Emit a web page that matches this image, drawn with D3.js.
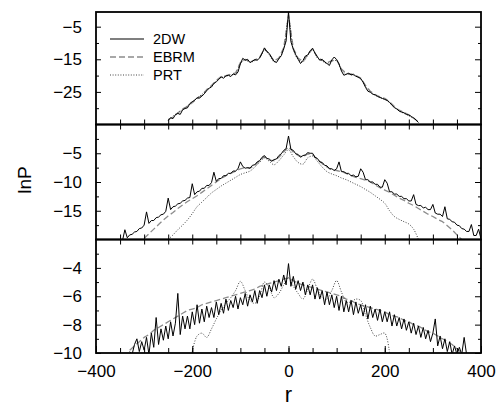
<!DOCTYPE html>
<html>
<head>
<meta charset="utf-8">
<script src="https://cdn.jsdelivr.net/npm/d3@7"></script>
<style>
  body { margin: 0; background: #fff; }
  svg { display: block; font-family: "Liberation Sans", Arial, Helvetica, sans-serif; }
</style>
</head>
<body>
<svg id="chart" width="501" height="407"></svg>
<script>
// ---- data (r grid: start + i * step) ----

// top panel
const top2dwStart = -250, top2dwStep = 5;
const top2dw = [
  -33.8, -32.9, -33.2, -32.0, -31.6, -31.9, -30.5, -30.1, -29.9, -28.6,
  -28.0, -27.6, -26.8, -26.9, -26.3, -25.6, -24.6, -23.9, -23.5, -22.4,
  -21.9, -21.2, -20.4, -20.8, -20.1, -19.9, -20.3, -19.5, -19.8, -18.9,
  -16.4, -14.7, -15.3, -15.0, -16.0, -15.6, -15.1, -15.3, -14.6, -13.2,
  -11.5, -12.6, -13.2, -14.5, -15.6, -16.0, -14.8, -13.9, -11.8, -9.4,
  -0.4, -9.6, -11.9, -13.6, -15.0, -16.3, -15.4, -14.0, -13.7, -12.4,
  -11.6, -13.1, -14.2, -15.3, -15.0, -15.8, -16.3, -16.9, -15.2, -14.3,
  -15.1, -16.4, -18.6, -19.9, -19.6, -19.3, -19.8, -19.6, -20.2, -20.5,
  -20.9, -22.0, -23.6, -24.8, -25.1, -25.7, -25.9, -26.4, -26.7, -27.0,
  -27.3, -27.6, -28.2, -29.1, -29.8, -30.2, -30.9, -31.2, -31.4, -31.9,
  -32.1, -32.5, -33.0, -33.6, -34.4
];
const topEbrmStart = -250, topEbrmStep = 10;
const topEbrm = [
  -33.5, -32.7, -31.5, -30.2, -29.5, -28.3, -27.1, -26.0, -24.3, -23.0,
  -21.5, -20.3, -20.0, -19.6, -19.2, -16.0, -15.0, -15.8, -15.2, -14.4,
  -11.8, -13.4, -15.5, -14.6, -11.5, -1.5, -11.6, -14.7, -15.6, -13.5,
  -11.9, -14.3, -15.3, -16.1, -15.4, -15.2, -18.0, -19.3, -19.5, -20.0,
  -20.8, -23.0, -24.8, -25.8, -26.5, -27.0, -28.0, -29.5, -30.6, -31.3,
  -32.0, -33.0, -34.2
];
const topPrtStart = -240, topPrtStep = 10;
const topPrt = [
  -32.4, -31.4, -30.4, -29.2, -28.0, -26.8, -25.8, -24.5, -23.2, -21.7,
  -20.6, -20.2, -19.8, -19.4, -16.4, -15.2, -15.9, -15.4, -14.6, -12.2,
  -13.6, -15.8, -14.9, -11.9, -2.5, -12.0, -15.0, -15.8, -13.8, -12.1,
  -14.6, -15.5, -16.3, -15.6, -15.4, -18.3, -19.5, -19.7, -20.2, -21.1,
  -23.3, -25.0, -26.0, -26.7, -27.3, -28.3, -29.8, -30.8, -31.6, -32.3,
  -33.3
];

// middle panel
const mid2dwStart = -345, mid2dwStep = 5;
const mid2dw = [
  -20.2, -18.3, -19.7, -19.2, -19.1, -18.7, -18.6, -18.1, -18.0, -17.5,
  -15.2, -17.2, -16.7, -16.7, -16.2, -16.1, -15.7, -15.6, -15.1, -12.8,
  -14.8, -14.3, -14.2, -13.8, -13.7, -13.3, -13.2, -12.8, -12.7, -10.3,
  -12.2, -11.7, -11.6, -11.1, -11.1, -10.6, -10.6, -10.1, -8.3, -9.9,
  -9.4, -9.4, -8.9, -8.9, -8.5, -8.5, -8.1, -8.1, -7.7, -6.5,
  -7.3, -7.6, -7.5, -7.6, -7.1, -7.0, -6.5, -6.3, -5.7, -5.4,
  -5.9, -6.0, -6.4, -6.1, -6.0, -5.4, -5.1, -4.5, -4.2, -2.0,
  -4.3, -4.5, -5.1, -5.2, -5.7, -5.4, -5.3, -4.9, -5.0, -5.0,
  -5.7, -5.9, -6.5, -6.6, -7.1, -7.2, -7.7, -7.7, -8.0, -7.7,
  -6.5, -8.2, -8.2, -8.5, -8.5, -8.9, -8.8, -9.1, -9.0, -7.7,
  -8.3, -9.6, -9.6, -10.0, -10.0, -10.4, -10.4, -10.9, -10.9, -9.6,
  -10.2, -11.7, -11.7, -12.1, -12.1, -12.5, -12.5, -12.9, -12.9, -13.3,
  -13.3, -12.2, -13.9, -14.1, -14.1, -14.5, -14.4, -14.8, -14.8, -13.9,
  -15.4, -15.6, -15.6, -16.0, -14.3, -16.4, -16.5, -16.9, -17.0, -17.5,
  -17.6, -18.1, -18.2, -18.6, -18.6, -17.4, -19.3, -19.3, -18.2, -19.9
];
const midEbrmStart = -300, midEbrmStep = 10;
const midEbrm = [
  -19.8, -19.0, -18.2, -17.4, -16.6, -15.9, -15.3, -14.6, -14.0, -13.4,
  -12.9, -12.4, -11.8, -11.2, -10.6, -10.0, -9.4, -8.9, -8.5, -8.1,
  -7.7, -7.5, -7.6, -7.1, -6.3, -5.6, -6.2, -6.3, -5.7, -4.8,
  -3.9, -4.8, -5.4, -5.6, -5.1, -5.2, -6.1, -6.8, -7.4, -7.9,
  -8.0, -8.2, -8.5, -8.9, -9.2, -9.4, -9.7, -10.0, -10.5, -11.0,
  -11.4, -11.8, -12.3, -12.8, -13.2, -13.7, -14.1, -14.6, -15.1, -15.6,
  -16.0, -16.5, -16.9, -17.6, -18.3, -19.2, -20.0
];
const midPrtStart = -250, midPrtStep = 10;
const midPrt = [
  -20.0, -19.2, -18.3, -17.5, -16.6, -15.5, -14.3, -13.5, -12.7, -11.9,
  -11.3, -10.7, -10.2, -9.7, -9.2, -8.7, -8.4, -8.1, -7.4, -6.6,
  -5.8, -6.4, -7.0, -6.3, -5.3, -4.4, -5.6, -6.6, -6.9, -5.8,
  -5.5, -6.4, -7.4, -8.2, -8.6, -8.9, -9.3, -9.6, -10.0, -10.4,
  -10.8, -11.3, -11.8, -12.4, -13.0, -13.7, -15.0, -16.0, -16.5, -16.9,
  -17.3, -18.2, -20.0
];

// bottom panel
const bot2dwStart = -330, bot2dwStep = 5;
const bot2dw = [
  -9.9, -10.1, -9.4, -9.0, -9.9, -9.2, -9.8, -8.9, -10.1, -8.6,
  -9.6, -7.5, -9.4, -8.3, -9.1, -8.1, -9.0, -7.8, -8.8, -7.9,
  -5.8, -8.7, -7.4, -8.3, -7.4, -8.3, -7.1, -8.0, -6.6, -7.9,
  -6.9, -7.8, -6.7, -7.5, -6.8, -7.5, -6.4, -7.3, -6.5, -7.2,
  -6.2, -7.0, -6.3, -6.8, -6.0, -6.9, -6.1, -6.6, -5.8, -6.7,
  -5.9, -6.4, -5.6, -6.5, -5.6, -6.1, -5.2, -6.0, -5.2, -5.7,
  -4.9, -5.6, -4.8, -5.3, -4.5, -5.2, -3.7, -5.3, -4.6, -5.5,
  -4.9, -5.6, -5.0, -5.9, -5.2, -5.9, -5.2, -6.2, -5.4, -6.2,
  -5.6, -6.6, -5.7, -6.6, -5.9, -6.8, -6.0, -7.0, -6.0, -7.1,
  -6.3, -7.1, -6.3, -7.3, -6.4, -7.2, -6.6, -7.4, -6.6, -7.6,
  -6.7, -7.5, -6.9, -7.7, -6.9, -7.8, -7.1, -7.8, -7.1, -8.1,
  -7.3, -8.1, -7.5, -8.3, -7.6, -8.4, -7.8, -8.6, -7.9, -8.7,
  -8.1, -8.9, -8.2, -9.0, -8.4, -9.2, -8.6, -7.6, -9.5, -8.8,
  -9.7, -9.0, -9.9, -9.2, -10.1, -9.5, -10.1, -9.6, -10.1, -8.9,
  -10.1
];
const botEbrmStart = -330, botEbrmStep = 10;
const botEbrm = [
  -9.8, -9.5, -9.2, -8.9, -8.7, -8.4, -8.2, -8.0, -7.8, -7.6,
  -7.4, -7.2, -7.0, -6.9, -6.8, -6.6, -6.5, -6.4, -6.3, -6.2,
  -6.1, -6.0, -5.9, -5.8, -5.7, -5.6, -5.5, -5.3, -5.2, -5.1,
  -5.0, -4.9, -4.8, -4.7, -4.9, -5.1, -5.2, -5.3, -5.4, -5.5,
  -5.6, -5.7, -5.8, -5.9, -6.0, -6.2, -6.3, -6.5, -6.6, -6.7,
  -6.8, -6.9, -7.0, -7.1, -7.3, -7.4, -7.5, -7.7, -7.8, -8.0,
  -8.1, -8.3, -8.5, -8.6, -8.8, -9.0, -9.2, -9.4, -9.7, -10.0
];
const botPrtStart = -200, botPrtStep = 10;
const botPrt = [
  -9.9, -8.8, -8.6, -8.9, -8.3, -7.6, -7.0, -6.5, -6.1, -5.6,
  -4.95, -5.6, -6.3, -6.5, -6.0, -5.0, -5.4, -6.1, -5.8, -5.2,
  -4.7, -5.3, -5.8, -6.2, -5.5, -4.8, -5.5, -6.1, -6.2, -5.6,
  -4.9, -5.7, -6.4, -6.4, -6.2, -6.3, -7.3, -8.2, -8.8, -8.7,
  -8.6, -10.0
];

// axes
const xDomain = [-400, 400];
const xLabelTicks = [-400, -200, 0, 200, 400];
const xMinorTicks = [-350, -300, -250, -200, -150, -100, -50, 0, 50, 100, 150, 200, 250, 300, 350];

const panelDomains = [[-35, -0.5], [-20, 0], [-10, -2]];
const panelMajor = [[-5, -15, -25], [-5, -10, -15], [-4, -6, -8, -10]];
const panelMinor = [[-10, -20, -30], [-2.5, -7.5, -12.5, -17.5], [-3, -5, -7, -9]];

const seriesNames = ["2DW", "EBRM", "PRT"];

// ---- drawing ----
const svg = d3.select("#chart");
const left = 96, right = 481;
const panelRanges = [[124.5, 12], [239.5, 124.5], [353, 239.5]];

const x = d3.scaleLinear().domain(xDomain).range([left, right]);

const styles = {
  "2DW": { stroke: "#000", width: 1, dash: null },
  "EBRM": { stroke: "#8c8c8c", width: 1.3, dash: "6,3" },
  "PRT": { stroke: "#444", width: 1, dash: "1,1.6" }
};

function toPoints(start, step, vals) {
  return vals.map((v, i) => [start + i * step, v]);
}

const panelData = [
  {
    "2DW": toPoints(top2dwStart, top2dwStep, top2dw),
    "EBRM": toPoints(topEbrmStart, topEbrmStep, topEbrm),
    "PRT": toPoints(topPrtStart, topPrtStep, topPrt)
  },
  {
    "2DW": toPoints(mid2dwStart, mid2dwStep, mid2dw),
    "EBRM": toPoints(midEbrmStart, midEbrmStep, midEbrm),
    "PRT": toPoints(midPrtStart, midPrtStep, midPrt)
  },
  {
    "2DW": toPoints(bot2dwStart, bot2dwStep, bot2dw),
    "EBRM": toPoints(botEbrmStart, botEbrmStep, botEbrm),
    "PRT": toPoints(botPrtStart, botPrtStep, botPrt)
  }
];

const fmt = (d) => (d < 0 ? "\u2212" + Math.abs(d) : String(d));

panelData.forEach((series, i) => {
  const y = d3.scaleLinear().domain(panelDomains[i]).range(panelRanges[i]);
  const g = svg.append("g");

  // clip to the panel
  const clipId = "clip" + i;
  svg.append("clipPath").attr("id", clipId)
    .append("rect")
    .attr("x", left).attr("y", panelRanges[i][1])
    .attr("width", right - left).attr("height", panelRanges[i][0] - panelRanges[i][1]);

  const lines = g.append("g").attr("clip-path", `url(#${clipId})`);
  ["EBRM", "PRT", "2DW"].forEach((name) => {
    const st = styles[name];
    const line = d3.line()
      .curve(name === "PRT" ? d3.curveCatmullRom : d3.curveLinear)
      .x((d) => x(d[0]))
      .y((d) => y(d[1]));
    lines.append("path")
      .datum(series[name])
      .attr("fill", "none")
      .attr("stroke", st.stroke)
      .attr("stroke-width", st.width)
      .attr("stroke-dasharray", st.dash)
      .attr("stroke-linejoin", "round")
      .attr("d", line);
  });

  // y axes, ticks inward on both sides
  const yLeft = g.append("g").attr("transform", `translate(${left},0)`)
    .call(d3.axisLeft(y).tickValues(panelMajor[i]).tickFormat(fmt)
      .tickSizeInner(-5).tickSizeOuter(0).tickPadding(14));
  g.append("g").attr("transform", `translate(${left},0)`)
    .call(d3.axisLeft(y).tickValues(panelMinor[i]).tickFormat("")
      .tickSizeInner(-3).tickSizeOuter(0));
  g.append("g").attr("transform", `translate(${right},0)`)
    .call(d3.axisRight(y).tickValues(panelMajor[i]).tickFormat("")
      .tickSizeInner(-6).tickSizeOuter(0));
  g.append("g").attr("transform", `translate(${right},0)`)
    .call(d3.axisRight(y).tickValues(panelMinor[i]).tickFormat("")
      .tickSizeInner(-3).tickSizeOuter(0));

  // x ticks along the bottom (pointing up), and the top for lower panels
  g.append("g").attr("transform", `translate(0,${panelRanges[i][0]})`)
    .call(d3.axisBottom(x).tickValues(xMinorTicks).tickFormat("")
      .tickSizeInner(-5).tickSizeOuter(0));
  if (i > 0) {
    g.append("g").attr("transform", `translate(0,${panelRanges[i][1]})`)
      .call(d3.axisTop(x).tickValues(xMinorTicks).tickFormat("")
        .tickSizeInner(-5).tickSizeOuter(0));
  }

  yLeft.selectAll("text").attr("font-size", 17).attr("font-family", null).attr("fill", "#000");
  g.selectAll(".domain").remove();
  g.selectAll(".tick line").attr("stroke", "#000");

  // frame
  g.append("rect")
    .attr("x", left).attr("y", panelRanges[i][1])
    .attr("width", right - left).attr("height", panelRanges[i][0] - panelRanges[i][1])
    .attr("fill", "none").attr("stroke", "#000").attr("stroke-width", 1.8);

  // x labels only on the bottom panel
  if (i === 2) {
    const xa = svg.append("g").attr("transform", `translate(0,${panelRanges[i][0]})`)
      .call(d3.axisBottom(x).tickValues(xLabelTicks).tickFormat(fmt)
        .tickSizeInner(-7).tickSizeOuter(0).tickPadding(12));
    xa.select(".domain").remove();
    xa.selectAll(".tick line").attr("stroke", "#000");
    xa.selectAll("text").attr("font-size", 17).attr("font-family", null).attr("fill", "#000");
  }

  // legend in the top panel
  if (i === 0) {
    const leg = svg.append("g");
    seriesNames.forEach((name, k) => {
      const yy = 39 + k * 18;
      const st = styles[name];
      leg.append("line")
        .attr("x1", 110).attr("x2", 144).attr("y1", yy).attr("y2", yy)
        .attr("stroke", st.stroke).attr("stroke-width", st.width + 0.2)
        .attr("stroke-dasharray", st.dash);
      leg.append("text")
        .attr("x", 153).attr("y", yy).attr("dy", "0.36em")
        .attr("font-size", 14.5)
        .text(name);
    });
  }
});

// axis titles
svg.append("text")
  .attr("transform", "translate(31,180) rotate(-90)")
  .attr("text-anchor", "middle")
  .attr("font-size", 19)
  .text("lnP");

svg.append("text")
  .attr("x", x(0)).attr("y", 402)
  .attr("text-anchor", "middle")
  .attr("font-size", 22)
  .text("r");
</script>
</body>
</html>
